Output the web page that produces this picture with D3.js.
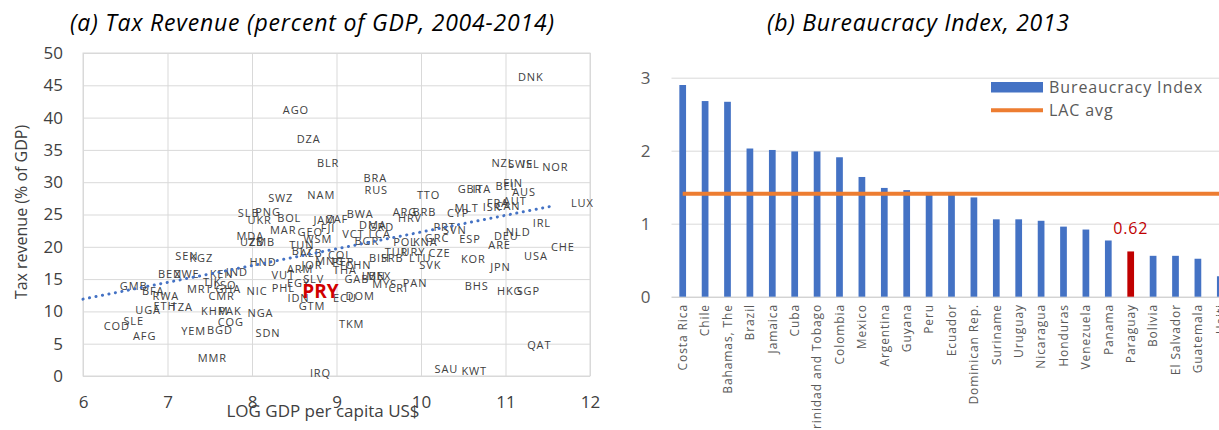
<!DOCTYPE html>
<html>
<head>
<meta charset="utf-8">
<script src="https://cdn.jsdelivr.net/npm/d3@7"></script>
<style>
  body { margin: 0; background: #fff; }
  svg { display: block; font-family: "Open Sans", sans-serif; }
</style>
</head>
<body>
<svg id="chart" width="1219" height="430"></svg>
<script>
// ---- panel (a): tax revenue vs log GDP per capita ----
const codes = ["AGO","DZA","BLR","SWZ","NAM","SLB","PNG","UKR","BOL","JAM","ZAF","FJI","MAR","GEO","MDA","UZB","ZMB",
  "BWA","BRA","RUS","ARG","BRB","HRV","DMA","GRD","VCT","LCA","BGR","POL","KNA","GRC","PRT","SVN","ESP","CYP","MLT","TTO",
  "TUR","URY","LTU","CZE","SVK","BIH","SRB","CHN","COL","MNG","PER","THA","JOR","ARM","ALB","TUN","WSM","BLZ","VUT","SLV",
  "PHL","EGY","IDN","GTM","ECU","DOM","TKM","GAB","LBN","MEX","MYS","CRI","PAN","KOR","BHS","JPN","ARE","DEU","NLD","IRL",
  "USA","CHE","HKG","SGP","QAT","SAU","KWT","IRQ","LUX","DNK","NZL","SWE","ISL","NOR","AUS","BEL","FIN","GBR","ITA","FRA",
  "AUT","ISR","CAN","SEN","KGZ","BEN","ZWE","KEN","IND","HND","MRT","GHA","CMR","TJK","LSO","GMB","BFA","RWA","UGA","ETH",
  "TZA","KHM","PAK","NGA","NIC","COG","BGD","YEM","SDN","MMR","SLE","COD","AFG"];
const logGdp = [8.52,8.67,8.90,8.34,8.82,7.96,8.19,8.09,8.44,8.86,9.01,8.90,8.37,8.69,7.98,8.00,8.12,
  9.28,9.46,9.47,9.81,10.04,9.87,9.43,9.53,9.20,9.51,9.36,9.81,10.05,10.19,10.28,10.40,10.58,10.44,10.54,10.09,
  9.71,9.91,9.99,10.22,10.11,9.51,9.66,9.26,9.04,8.92,9.08,9.10,8.71,8.57,8.70,8.59,8.78,8.60,8.37,8.73,
  8.37,8.55,8.55,8.71,9.10,9.28,9.18,9.24,9.44,9.50,9.57,9.73,9.93,10.62,10.66,10.94,10.93,11.01,11.15,11.43,
  11.36,11.68,11.05,11.27,11.40,10.30,10.63,8.81,11.91,11.30,10.97,11.18,11.30,11.59,11.22,11.01,11.09,10.58,10.72,10.91,
  11.11,10.84,11.03,7.23,7.40,7.03,7.23,7.64,7.82,8.13,7.38,7.72,7.64,7.53,7.68,6.60,6.83,6.98,6.77,6.97,
  7.17,7.56,7.74,8.10,8.06,7.75,7.62,7.31,8.19,7.53,6.60,6.40,6.73];
const taxRev = [41.1,36.6,33.0,27.6,28.0,25.2,25.4,24.2,24.5,24.2,24.3,22.9,22.6,22.3,21.7,20.7,20.7,
  25.1,30.7,28.8,25.4,25.4,24.4,23.4,23.1,21.9,21.9,20.8,20.7,20.7,21.3,23.1,22.6,21.2,25.2,26.0,28.0,
  19.2,19.2,18.2,19.0,17.2,18.3,18.3,17.2,18.7,17.8,17.7,16.4,17.2,16.5,19.0,20.3,21.2,19.4,15.6,15.0,
  13.6,14.4,12.0,10.8,12.0,12.4,8.1,15.0,15.5,15.5,14.2,13.6,14.4,18.1,13.9,16.8,20.2,21.6,22.3,23.7,
  18.5,19.9,13.1,13.1,4.7,1.0,0.7,0.5,26.8,46.2,33.0,32.8,32.8,32.3,28.4,29.4,29.9,29.0,29.0,26.8,
  27.1,26.2,26.3,18.6,18.3,15.7,15.7,15.7,16.1,17.6,13.4,13.4,12.3,14.6,14.1,13.9,13.1,12.3,10.2,10.8,
  10.6,10.0,10.1,9.7,13.1,8.3,7.1,6.9,6.6,2.8,8.5,7.7,6.1];
const pryCode = "PRY", pryGdp = 8.81, pryTax = 13.05;
const trendX = [6, 11.55];
const trendY = [11.9, 26.3];
const xTicksA = [6, 7, 8, 9, 10, 11, 12];
const yTicksA = [0, 5, 10, 15, 20, 25, 30, 35, 40, 45, 50];

// ---- panel (b): bureaucracy index 2013 ----
const countries = ["Costa Rica","Chile","Bahamas, The","Brazil","Jamaica","Cuba","Trinidad and Tobago","Colombia","Mexico",
  "Argentina","Guyana","Peru","Ecuador","Dominican Rep.","Suriname","Uruguay","Nicaragua","Honduras","Venezuela","Panama",
  "Paraguay","Bolivia","El Salvador","Guatemala","Haiti"];
const bureau = [2.90,2.68,2.67,2.03,2.01,1.99,1.99,1.91,1.64,1.49,1.46,1.41,1.40,1.36,1.06,1.06,1.04,0.96,0.92,0.77,
  0.62,0.56,0.56,0.52,0.28];
const lacAvg = 1.41;
const yTicksB = [0, 1, 2, 3];

const svg = d3.select("#chart");
const grid = "#d9d9d9";

// ===== panel (a) =====
const xA = d3.scaleLinear().domain([6, 12]).range([83, 590]);
const yA = d3.scaleLinear().domain([0, 50]).range([376, 53]);
const gA = svg.append("g");

gA.append("text")
  .attr("x", 312).attr("y", 31)
  .attr("text-anchor", "middle")
  .attr("font-size", 23).attr("font-style", "italic").attr("fill", "#000")
  .attr("textLength", 484).attr("lengthAdjust", "spacing")
  .text("(a) Tax Revenue (percent of GDP, 2004-2014)");

const xAxisA = gA.append("g")
  .attr("transform", `translate(0,${yA(0)})`)
  .call(d3.axisBottom(xA).tickValues(xTicksA).tickSize(-(yA(0) - yA(50))).tickPadding(20).tickFormat(d3.format("d")));
const yAxisA = gA.append("g")
  .attr("transform", `translate(${xA(6)},0)`)
  .call(d3.axisLeft(yA).tickValues(yTicksA).tickSize(-(xA(12) - xA(6))).tickPadding(20));
[xAxisA, yAxisA].forEach(ax => {
  ax.select(".domain").remove();
  ax.selectAll("line").attr("stroke", grid);
  ax.selectAll("text").attr("font-size", 17).attr("fill", "#404040").attr("font-family", "Open Sans, sans-serif");
});
gA.append("rect")
  .attr("x", xA(6)).attr("y", yA(50))
  .attr("width", xA(12) - xA(6)).attr("height", yA(0) - yA(50))
  .attr("fill", "none").attr("stroke", grid);

gA.append("text")
  .attr("x", 323).attr("y", 417)
  .attr("text-anchor", "middle").attr("font-size", 17).attr("fill", "#404040")
  .text("LOG GDP per capita US$");
gA.append("text")
  .attr("transform", "translate(21,212) rotate(-90)")
  .attr("text-anchor", "middle").attr("dy", "0.35em").attr("font-size", 16).attr("fill", "#404040")
  .text("Tax revenue (% of GDP)");

gA.append("g").selectAll("text")
  .data(codes.map((c, i) => ({ c, x: logGdp[i], y: taxRev[i] })))
  .join("text")
  .attr("x", d => xA(d.x)).attr("y", d => yA(d.y))
  .attr("dy", "0.35em").attr("text-anchor", "middle")
  .attr("font-size", 11).attr("letter-spacing", 0.9).attr("fill", "#404040")
  .text(d => d.c);

gA.append("path")
  .datum(trendX.map((x, i) => [x, trendY[i]]))
  .attr("fill", "none").attr("stroke", "#4472C4")
  .attr("stroke-width", 3).attr("stroke-linecap", "round")
  .attr("stroke-dasharray", "0.1,6.5")
  .attr("d", d3.line().x(d => xA(d[0])).y(d => yA(d[1])));

gA.append("text")
  .attr("x", xA(pryGdp)).attr("y", yA(pryTax))
  .attr("dy", "0.35em").attr("text-anchor", "middle")
  .attr("font-size", 19).attr("font-weight", "bold").attr("fill", "#D00000")
  .text(pryCode);

// ===== panel (b) =====
const step = 22.4;
const xB = d3.scaleBand().domain(countries)
  .range([671.5, 671.5 + step * countries.length])
  .paddingInner(0.7).paddingOuter(0.35);
const yB = d3.scaleLinear().domain([0, 3]).range([296.7, 77.7]);
const gB = svg.append("g");

gB.append("text")
  .attr("x", 918).attr("y", 31)
  .attr("text-anchor", "middle")
  .attr("font-size", 23).attr("font-style", "italic").attr("fill", "#000")
  .attr("textLength", 302).attr("lengthAdjust", "spacing")
  .text("(b) Bureaucracy Index, 2013");

const yAxisB = gB.append("g")
  .attr("transform", "translate(671.5,0)")
  .call(d3.axisLeft(yB).tickValues(yTicksB).tickSize(-600).tickPadding(21).tickFormat(d3.format("d")));
yAxisB.select(".domain").remove();
yAxisB.selectAll("line").attr("stroke", d => d === 0 ? "#bfbfbf" : grid);
yAxisB.selectAll("text").attr("font-size", 17).attr("fill", "#595959").attr("font-family", "Open Sans, sans-serif");

gB.append("g").selectAll("rect")
  .data(countries.map((c, i) => ({ c, v: bureau[i] })))
  .join("rect")
  .attr("x", d => xB(d.c)).attr("width", xB.bandwidth())
  .attr("y", d => yB(d.v)).attr("height", d => yB(0) - yB(d.v))
  .attr("fill", d => d.c === "Paraguay" ? "#C00000" : "#4472C4");

gB.append("line")
  .attr("x1", xB(countries[0]) + xB.bandwidth() / 2)
  .attr("x2", xB(countries[countries.length - 1]) + xB.bandwidth() / 2)
  .attr("y1", yB(lacAvg)).attr("y2", yB(lacAvg))
  .attr("stroke", "#ED7D31").attr("stroke-width", 4);

gB.append("g").selectAll("text")
  .data(countries)
  .join("text")
  .attr("transform", d => `translate(${xB(d) + xB.bandwidth() / 2},304) rotate(-90)`)
  .attr("text-anchor", "end").attr("dy", "0.35em")
  .attr("font-size", 12).attr("letter-spacing", 0.9).attr("fill", "#595959")
  .text(d => d);

const pi = countries.indexOf("Paraguay");
gB.append("text")
  .attr("x", xB("Paraguay") + xB.bandwidth() / 2).attr("y", 234)
  .attr("text-anchor", "middle").attr("font-size", 16).attr("letter-spacing", 0.8)
  .attr("fill", "#C00000")
  .text(d3.format(".2f")(bureau[pi]));

// legend
const leg = gB.append("g");
leg.append("rect").attr("x", 991).attr("y", 82).attr("width", 52).attr("height", 10.5).attr("fill", "#4472C4");
leg.append("line").attr("x1", 991).attr("x2", 1043).attr("y1", 110.3).attr("y2", 110.3)
  .attr("stroke", "#ED7D31").attr("stroke-width", 4);
leg.append("text").attr("x", 1049).attr("y", 92.5).attr("font-size", 16).attr("letter-spacing", 0.9)
  .attr("fill", "#595959").text("Bureaucracy Index");
leg.append("text").attr("x", 1049).attr("y", 116).attr("font-size", 16).attr("letter-spacing", 0.9)
  .attr("fill", "#595959").text("LAC avg");
</script>
</body>
</html>
